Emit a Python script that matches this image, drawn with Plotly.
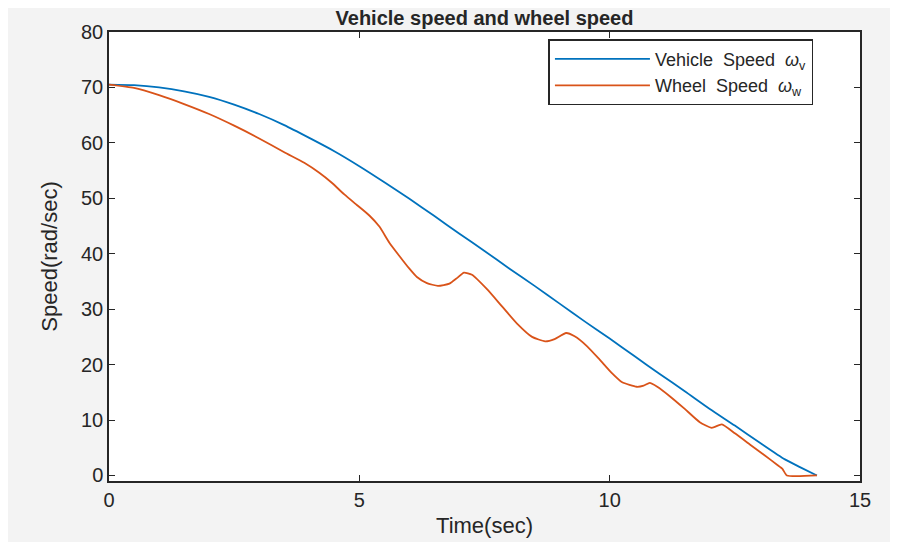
import plotly.graph_objects as go

# Vehicle speed (rad/sec)
t_vehicle = [0, 0.5, 1, 1.5, 2, 2.5, 3, 3.5, 4, 4.5, 5, 5.5, 6, 6.5, 7, 7.5, 8,
             8.5, 9, 9.5, 10, 10.5, 11, 11.5, 12, 12.5, 13, 13.5, 13.8, 14.14]
v_vehicle = [70.5, 70.4, 70.0, 69.3, 68.3, 66.9, 65.2, 63.2, 60.9, 58.5, 55.8,
             52.9, 49.9, 46.8, 43.6, 40.5, 37.3, 34.2, 31.0, 27.8, 24.7, 21.5,
             18.3, 15.2, 12.0, 9.0, 5.9, 2.9, 1.5, 0.0]

# Wheel speed (rad/sec)
t_wheel = [0, 0.5, 1, 1.5, 2, 2.5, 3, 3.5, 3.9, 4.2, 4.45, 4.7, 4.95, 5.2, 5.4,
           5.6, 5.8, 6.0, 6.15, 6.35, 6.57, 6.8, 6.95, 7.09, 7.25, 7.55, 7.85,
           8.15, 8.45, 8.71, 8.9, 9.13, 9.3, 9.55, 9.8, 10.05, 10.25, 10.54,
           10.68, 10.8, 10.95, 11.2, 11.5, 11.8, 12.04, 12.24, 12.5, 12.8, 13.1,
           13.35, 13.45, 13.54, 14.14]
v_wheel = [70.5, 69.9, 68.6, 67.0, 65.2, 63.1, 60.8, 58.3, 56.4, 54.6, 52.8,
           50.7, 48.8, 46.9, 44.9, 42.0, 39.6, 37.3, 35.8, 34.7, 34.2, 34.6,
           35.6, 36.6, 36.2, 33.6, 30.5, 27.4, 25.0, 24.2, 24.6, 25.7, 25.1,
           23.3, 20.9, 18.4, 16.8, 16.0, 16.2, 16.7, 16.0, 14.3, 12.0, 9.6, 8.6,
           9.2, 7.6, 5.6, 3.6, 1.9, 1.2, 0.0, 0.0]

x_ticks = [0, 5, 10, 15]
y_ticks = [0, 10, 20, 30, 40, 50, 60, 70, 80]

FONT = "Liberation Sans, Arial"

fig = go.Figure()
fig.add_trace(go.Scatter(
    x=t_vehicle, y=v_vehicle, mode="lines",
    name="Vehicle  Speed  <i>ω</i><sub>v</sub>",
    line=dict(color="#0072BD", width=1.8, shape="spline", smoothing=0.6)))
fig.add_trace(go.Scatter(
    x=t_wheel, y=v_wheel, mode="lines",
    name="Wheel  Speed  <i>ω</i><sub>w</sub>",
    line=dict(color="#D95319", width=1.8, shape="spline", smoothing=0.5)))

axis_common = dict(
    showgrid=False, zeroline=False, showline=True, mirror="ticks",
    linecolor="#262626", linewidth=1.5, ticks="inside", ticklen=6,
    tickcolor="#262626", tickfont=dict(family=FONT, size=20, color="#262626"),
    automargin=False,
)

fig.update_layout(
    width=890, height=534,
    paper_bgcolor="#f3f3f3", plot_bgcolor="#ffffff",
    margin=dict(l=101, r=38, t=24, b=61),
    title=dict(text="<b>Vehicle speed and wheel speed</b>", x=(101 + 375.5) / 890,
               xanchor="center", xref="container", yref="container",
               y=0.994, yanchor="top",
               font=dict(family=FONT, size=20, color="#262626")),
    xaxis=dict(range=[0, 15], tickvals=x_ticks, **axis_common,
               title=dict(text="Time(sec)", standoff=8,
                          font=dict(family=FONT, size=22, color="#262626"))),
    yaxis=dict(range=[-1, 80], tickvals=y_ticks, **axis_common,
               title=dict(text="Speed(rad/sec)", standoff=17,
                          font=dict(family=FONT, size=22, color="#262626"))),
    legend=dict(x=0.938, xanchor="right", y=0.984, yanchor="top",
                bgcolor="#ffffff", bordercolor="#262626", borderwidth=1.5,
                font=dict(family=FONT, size=18, color="#262626"),
                itemwidth=95, tracegroupgap=0),
    showlegend=True,
)

fig.write_html("out.html")
